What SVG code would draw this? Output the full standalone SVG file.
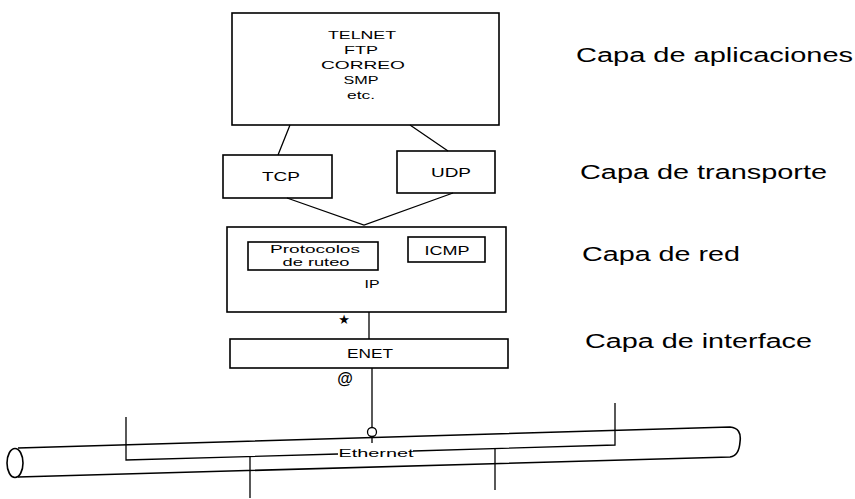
<svg xmlns="http://www.w3.org/2000/svg" width="855" height="499" viewBox="0 0 855 499">
<style>
.box{fill:none;stroke:#000;stroke-width:1.6}
.ln{fill:none;stroke:#000;stroke-width:1.3}
.t{font-family:"Liberation Sans",Arial,sans-serif;font-size:11.5px;fill:#000;text-anchor:middle}
.m{font-size:13px}
.lab{font-family:"Liberation Sans",Arial,sans-serif;font-size:19.5px;fill:#000}
</style>
<rect width="855" height="499" fill="#fff"/>
<g id="aplicaciones">
<rect class="box" x="232" y="13" width="267" height="112"/>
<text class="t" x="362" y="39" textLength="68" lengthAdjust="spacingAndGlyphs">TELNET</text>
<text class="t" x="361" y="54" textLength="34" lengthAdjust="spacingAndGlyphs">FTP</text>
<text class="t" x="363" y="69" textLength="84" lengthAdjust="spacingAndGlyphs">CORREO</text>
<text class="t" x="361" y="84" textLength="35" lengthAdjust="spacingAndGlyphs">SMP</text>
<text class="t" x="361" y="99" textLength="28" lengthAdjust="spacingAndGlyphs">etc.</text>
</g>
<g id="tcp">
<rect class="box" x="223" y="155" width="109" height="43"/>
<text class="t m" x="281" y="181" textLength="38" lengthAdjust="spacingAndGlyphs">TCP</text>
</g>
<g id="udp">
<rect class="box" x="397" y="151" width="98" height="42"/>
<text class="t m" x="451" y="177" textLength="40" lengthAdjust="spacingAndGlyphs">UDP</text>
</g>
<g id="ip">
<rect class="box" x="227" y="227" width="279" height="85"/>
<text class="t" x="372" y="288" textLength="15" lengthAdjust="spacingAndGlyphs">IP</text>
</g>
<g id="protocolos">
<rect class="box" x="248" y="242" width="130" height="28"/>
<text class="t" x="315" y="253" textLength="90" lengthAdjust="spacingAndGlyphs">Protocolos</text>
<text class="t" x="316" y="266" textLength="67" lengthAdjust="spacingAndGlyphs">de ruteo</text>
</g>
<g id="icmp">
<rect class="box" x="408" y="237" width="77" height="25"/>
<text class="t m" x="447" y="255" textLength="45" lengthAdjust="spacingAndGlyphs">ICMP</text>
</g>
<g id="enet">
<rect class="box" x="230" y="339" width="278" height="29"/>
<text class="t m" x="370" y="358" textLength="46" lengthAdjust="spacingAndGlyphs">ENET</text>
</g>
<g id="ethernet">
<path class="box" d="M18,448 L730,427 Q742,428 740,442 Q739,456 730,457 L18,477"/>
<ellipse class="box" cx="15" cy="463" rx="8" ry="14.5"/>
<path class="ln" d="M126,417 V460 L338,454 M413,451 L615,445 V403"/>
<text class="t" x="376" y="457" textLength="75" lengthAdjust="spacingAndGlyphs">Ethernet</text>
<path class="ln" d="M250,457 V498 M495,448 V490"/>
</g>
<g id="connectors">
<path class="ln" d="M290,125 L278,155 M410,125 L448,151"/>
<path class="ln" d="M287,198 L364,225 L453,193"/>
<path class="ln" d="M369,312 V339"/>
<path class="ln" d="M372,368 V427.5 M372,436.5 V443"/>
<circle class="ln" cx="372" cy="432" r="4.5"/>
<text x="344" y="324" font-family="DejaVu Sans,sans-serif" font-size="13" text-anchor="middle">★</text>
<text x="345" y="384" font-family="Liberation Sans,Arial,sans-serif" font-size="16" font-weight="bold" text-anchor="middle">@</text>
</g>
<g id="labels">
<text class="lab" x="576" y="62" textLength="277" lengthAdjust="spacingAndGlyphs">Capa de aplicaciones</text>
<text class="lab" x="580" y="179" textLength="247" lengthAdjust="spacingAndGlyphs">Capa de transporte</text>
<text class="lab" x="582" y="261" textLength="158" lengthAdjust="spacingAndGlyphs">Capa de red</text>
<text class="lab" x="585" y="348" textLength="227" lengthAdjust="spacingAndGlyphs">Capa de interface</text>
</g>
</svg>
